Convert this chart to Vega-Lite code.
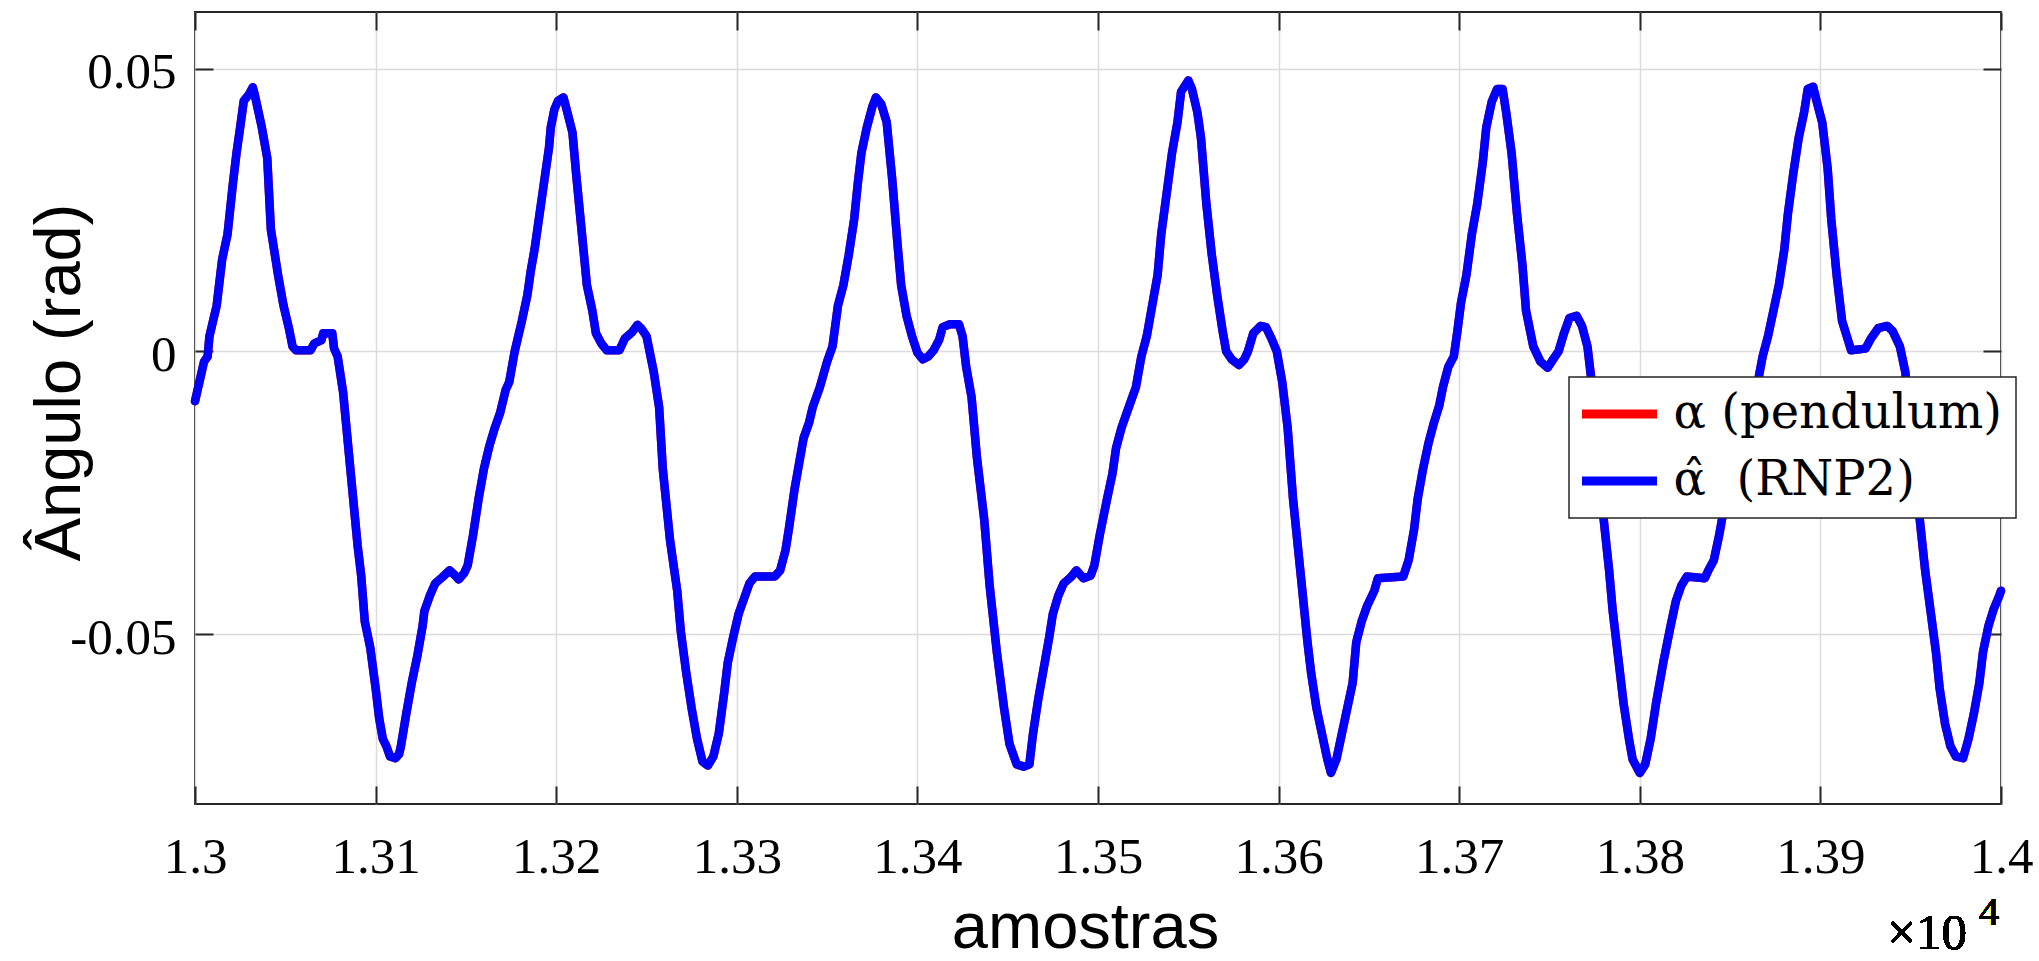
{
"$schema": "https://vega.github.io/schema/vega-lite/v6.json",
"width": 1806, "height": 792,
"autosize": {"type": "none"},
"padding": {"left": 195, "top": 12, "right": 38, "bottom": 157},
"background": "white",
"config": {
  "view": {"stroke": "#262626", "strokeWidth": 2},
  "axis": {"domain": false, "tickColor": "#262626", "tickWidth": 2, "tickSize": -18, "gridColor": "#dcdcdc", "gridWidth": 1.5, "labelFont": "Liberation Serif", "labelFontSize": 51, "labelColor": "#000000", "titleFont": "Liberation Sans", "titleFontSize": 65, "titleFontWeight": "normal", "titleColor": "#000000"},
  "legend": {"padding": 13, "strokeColor": "#262626", "strokeWidth": 1.5, "fillColor": "#ffffff", "cornerRadius": 0, "labelFont": "DejaVu Serif", "labelFontSize": 48, "labelColor": "#000000", "labelLimit": 600, "symbolType": "M-2.5,0H2.5", "symbolSize": 900, "symbolStrokeWidth": 9, "symbolOffset": 13.5, "labelOffset": 30, "rowPadding": 19}
},
"data": {"values": [
{"amostra":13000,"alpha":-0.0088,"alpha_hat":-0.0088},
{"amostra":13005,"alpha":-0.0018,"alpha_hat":-0.0018},
{"amostra":13007,"alpha":-0.0009,"alpha_hat":-0.0009},
{"amostra":13008,"alpha":0.0027,"alpha_hat":0.0027},
{"amostra":13012,"alpha":0.0081,"alpha_hat":0.0081},
{"amostra":13015,"alpha":0.0162,"alpha_hat":0.0162},
{"amostra":13018,"alpha":0.0207,"alpha_hat":0.0207},
{"amostra":13021,"alpha":0.0297,"alpha_hat":0.0297},
{"amostra":13023,"alpha":0.0351,"alpha_hat":0.0351},
{"amostra":13025,"alpha":0.0396,"alpha_hat":0.0396},
{"amostra":13027,"alpha":0.0443,"alpha_hat":0.0443},
{"amostra":13030,"alpha":0.0455,"alpha_hat":0.0455},
{"amostra":13032,"alpha":0.0467,"alpha_hat":0.0467},
{"amostra":13033,"alpha":0.0455,"alpha_hat":0.0455},
{"amostra":13037,"alpha":0.0396,"alpha_hat":0.0396},
{"amostra":13040,"alpha":0.0342,"alpha_hat":0.0342},
{"amostra":13042,"alpha":0.0216,"alpha_hat":0.0216},
{"amostra":13046,"alpha":0.0135,"alpha_hat":0.0135},
{"amostra":13049,"alpha":0.0081,"alpha_hat":0.0081},
{"amostra":13052,"alpha":0.0041,"alpha_hat":0.0041},
{"amostra":13054,"alpha":0.0009,"alpha_hat":0.0009},
{"amostra":13056,"alpha":0.0002,"alpha_hat":0.0002},
{"amostra":13064,"alpha":0.0002,"alpha_hat":0.0002},
{"amostra":13066,"alpha":0.0014,"alpha_hat":0.0014},
{"amostra":13070,"alpha":0.0020,"alpha_hat":0.0020},
{"amostra":13071,"alpha":0.0032,"alpha_hat":0.0032},
{"amostra":13076,"alpha":0.0032,"alpha_hat":0.0032},
{"amostra":13077,"alpha":0.0005,"alpha_hat":0.0005},
{"amostra":13079,"alpha":-0.0009,"alpha_hat":-0.0009},
{"amostra":13082,"alpha":-0.0072,"alpha_hat":-0.0072},
{"amostra":13086,"alpha":-0.0207,"alpha_hat":-0.0207},
{"amostra":13090,"alpha":-0.0342,"alpha_hat":-0.0342},
{"amostra":13092,"alpha":-0.0396,"alpha_hat":-0.0396},
{"amostra":13094,"alpha":-0.0477,"alpha_hat":-0.0477},
{"amostra":13097,"alpha":-0.0523,"alpha_hat":-0.0523},
{"amostra":13100,"alpha":-0.0595,"alpha_hat":-0.0595},
{"amostra":13102,"alpha":-0.0649,"alpha_hat":-0.0649},
{"amostra":13104,"alpha":-0.0685,"alpha_hat":-0.0685},
{"amostra":13106,"alpha":-0.0698,"alpha_hat":-0.0698},
{"amostra":13108,"alpha":-0.0716,"alpha_hat":-0.0716},
{"amostra":13111,"alpha":-0.0719,"alpha_hat":-0.0719},
{"amostra":13113,"alpha":-0.0712,"alpha_hat":-0.0712},
{"amostra":13114,"alpha":-0.0698,"alpha_hat":-0.0698},
{"amostra":13117,"alpha":-0.0640,"alpha_hat":-0.0640},
{"amostra":13120,"alpha":-0.0586,"alpha_hat":-0.0586},
{"amostra":13123,"alpha":-0.0540,"alpha_hat":-0.0540},
{"amostra":13126,"alpha":-0.0486,"alpha_hat":-0.0486},
{"amostra":13127,"alpha":-0.0459,"alpha_hat":-0.0459},
{"amostra":13130,"alpha":-0.0432,"alpha_hat":-0.0432},
{"amostra":13133,"alpha":-0.0410,"alpha_hat":-0.0410},
{"amostra":13137,"alpha":-0.0399,"alpha_hat":-0.0399},
{"amostra":13141,"alpha":-0.0387,"alpha_hat":-0.0387},
{"amostra":13144,"alpha":-0.0396,"alpha_hat":-0.0396},
{"amostra":13146,"alpha":-0.0403,"alpha_hat":-0.0403},
{"amostra":13149,"alpha":-0.0392,"alpha_hat":-0.0392},
{"amostra":13151,"alpha":-0.0378,"alpha_hat":-0.0378},
{"amostra":13154,"alpha":-0.0324,"alpha_hat":-0.0324},
{"amostra":13157,"alpha":-0.0261,"alpha_hat":-0.0261},
{"amostra":13160,"alpha":-0.0207,"alpha_hat":-0.0207},
{"amostra":13163,"alpha":-0.0167,"alpha_hat":-0.0167},
{"amostra":13166,"alpha":-0.0135,"alpha_hat":-0.0135},
{"amostra":13169,"alpha":-0.0108,"alpha_hat":-0.0108},
{"amostra":13172,"alpha":-0.0068,"alpha_hat":-0.0068},
{"amostra":13174,"alpha":-0.0054,"alpha_hat":-0.0054},
{"amostra":13177,"alpha":0.0000,"alpha_hat":0.0000},
{"amostra":13181,"alpha":0.0054,"alpha_hat":0.0054},
{"amostra":13184,"alpha":0.0099,"alpha_hat":0.0099},
{"amostra":13186,"alpha":0.0144,"alpha_hat":0.0144},
{"amostra":13188,"alpha":0.0180,"alpha_hat":0.0180},
{"amostra":13190,"alpha":0.0225,"alpha_hat":0.0225},
{"amostra":13192,"alpha":0.0270,"alpha_hat":0.0270},
{"amostra":13194,"alpha":0.0315,"alpha_hat":0.0315},
{"amostra":13196,"alpha":0.0360,"alpha_hat":0.0360},
{"amostra":13197,"alpha":0.0396,"alpha_hat":0.0396},
{"amostra":13199,"alpha":0.0428,"alpha_hat":0.0428},
{"amostra":13201,"alpha":0.0443,"alpha_hat":0.0443},
{"amostra":13204,"alpha":0.0449,"alpha_hat":0.0449},
{"amostra":13205,"alpha":0.0437,"alpha_hat":0.0437},
{"amostra":13209,"alpha":0.0387,"alpha_hat":0.0387},
{"amostra":13211,"alpha":0.0315,"alpha_hat":0.0315},
{"amostra":13214,"alpha":0.0216,"alpha_hat":0.0216},
{"amostra":13217,"alpha":0.0117,"alpha_hat":0.0117},
{"amostra":13220,"alpha":0.0072,"alpha_hat":0.0072},
{"amostra":13222,"alpha":0.0032,"alpha_hat":0.0032},
{"amostra":13225,"alpha":0.0014,"alpha_hat":0.0014},
{"amostra":13228,"alpha":0.0002,"alpha_hat":0.0002},
{"amostra":13235,"alpha":0.0002,"alpha_hat":0.0002},
{"amostra":13238,"alpha":0.0023,"alpha_hat":0.0023},
{"amostra":13242,"alpha":0.0034,"alpha_hat":0.0034},
{"amostra":13245,"alpha":0.0047,"alpha_hat":0.0047},
{"amostra":13247,"alpha":0.0041,"alpha_hat":0.0041},
{"amostra":13250,"alpha":0.0027,"alpha_hat":0.0027},
{"amostra":13254,"alpha":-0.0036,"alpha_hat":-0.0036},
{"amostra":13257,"alpha":-0.0099,"alpha_hat":-0.0099},
{"amostra":13259,"alpha":-0.0207,"alpha_hat":-0.0207},
{"amostra":13263,"alpha":-0.0333,"alpha_hat":-0.0333},
{"amostra":13267,"alpha":-0.0423,"alpha_hat":-0.0423},
{"amostra":13269,"alpha":-0.0495,"alpha_hat":-0.0495},
{"amostra":13272,"alpha":-0.0568,"alpha_hat":-0.0568},
{"amostra":13275,"alpha":-0.0631,"alpha_hat":-0.0631},
{"amostra":13278,"alpha":-0.0685,"alpha_hat":-0.0685},
{"amostra":13281,"alpha":-0.0725,"alpha_hat":-0.0725},
{"amostra":13284,"alpha":-0.0732,"alpha_hat":-0.0732},
{"amostra":13287,"alpha":-0.0716,"alpha_hat":-0.0716},
{"amostra":13290,"alpha":-0.0676,"alpha_hat":-0.0676},
{"amostra":13293,"alpha":-0.0604,"alpha_hat":-0.0604},
{"amostra":13295,"alpha":-0.0550,"alpha_hat":-0.0550},
{"amostra":13298,"alpha":-0.0505,"alpha_hat":-0.0505},
{"amostra":13301,"alpha":-0.0464,"alpha_hat":-0.0464},
{"amostra":13304,"alpha":-0.0437,"alpha_hat":-0.0437},
{"amostra":13307,"alpha":-0.0410,"alpha_hat":-0.0410},
{"amostra":13310,"alpha":-0.0398,"alpha_hat":-0.0398},
{"amostra":13321,"alpha":-0.0398,"alpha_hat":-0.0398},
{"amostra":13324,"alpha":-0.0387,"alpha_hat":-0.0387},
{"amostra":13327,"alpha":-0.0351,"alpha_hat":-0.0351},
{"amostra":13329,"alpha":-0.0310,"alpha_hat":-0.0310},
{"amostra":13332,"alpha":-0.0243,"alpha_hat":-0.0243},
{"amostra":13335,"alpha":-0.0189,"alpha_hat":-0.0189},
{"amostra":13337,"alpha":-0.0153,"alpha_hat":-0.0153},
{"amostra":13340,"alpha":-0.0126,"alpha_hat":-0.0126},
{"amostra":13342,"alpha":-0.0099,"alpha_hat":-0.0099},
{"amostra":13346,"alpha":-0.0063,"alpha_hat":-0.0063},
{"amostra":13350,"alpha":-0.0018,"alpha_hat":-0.0018},
{"amostra":13353,"alpha":0.0009,"alpha_hat":0.0009},
{"amostra":13356,"alpha":0.0081,"alpha_hat":0.0081},
{"amostra":13359,"alpha":0.0117,"alpha_hat":0.0117},
{"amostra":13362,"alpha":0.0171,"alpha_hat":0.0171},
{"amostra":13365,"alpha":0.0234,"alpha_hat":0.0234},
{"amostra":13367,"alpha":0.0297,"alpha_hat":0.0297},
{"amostra":13369,"alpha":0.0351,"alpha_hat":0.0351},
{"amostra":13372,"alpha":0.0396,"alpha_hat":0.0396},
{"amostra":13375,"alpha":0.0432,"alpha_hat":0.0432},
{"amostra":13377,"alpha":0.0449,"alpha_hat":0.0449},
{"amostra":13380,"alpha":0.0437,"alpha_hat":0.0437},
{"amostra":13383,"alpha":0.0405,"alpha_hat":0.0405},
{"amostra":13386,"alpha":0.0306,"alpha_hat":0.0306},
{"amostra":13389,"alpha":0.0189,"alpha_hat":0.0189},
{"amostra":13391,"alpha":0.0117,"alpha_hat":0.0117},
{"amostra":13394,"alpha":0.0063,"alpha_hat":0.0063},
{"amostra":13397,"alpha":0.0027,"alpha_hat":0.0027},
{"amostra":13400,"alpha":-0.0002,"alpha_hat":-0.0002},
{"amostra":13403,"alpha":-0.0014,"alpha_hat":-0.0014},
{"amostra":13406,"alpha":-0.0009,"alpha_hat":-0.0009},
{"amostra":13409,"alpha":0.0002,"alpha_hat":0.0002},
{"amostra":13412,"alpha":0.0020,"alpha_hat":0.0020},
{"amostra":13414,"alpha":0.0043,"alpha_hat":0.0043},
{"amostra":13418,"alpha":0.0048,"alpha_hat":0.0048},
{"amostra":13423,"alpha":0.0048,"alpha_hat":0.0048},
{"amostra":13425,"alpha":0.0027,"alpha_hat":0.0027},
{"amostra":13427,"alpha":-0.0027,"alpha_hat":-0.0027},
{"amostra":13430,"alpha":-0.0081,"alpha_hat":-0.0081},
{"amostra":13433,"alpha":-0.0189,"alpha_hat":-0.0189},
{"amostra":13437,"alpha":-0.0297,"alpha_hat":-0.0297},
{"amostra":13440,"alpha":-0.0414,"alpha_hat":-0.0414},
{"amostra":13444,"alpha":-0.0532,"alpha_hat":-0.0532},
{"amostra":13448,"alpha":-0.0631,"alpha_hat":-0.0631},
{"amostra":13451,"alpha":-0.0694,"alpha_hat":-0.0694},
{"amostra":13455,"alpha":-0.0730,"alpha_hat":-0.0730},
{"amostra":13459,"alpha":-0.0734,"alpha_hat":-0.0734},
{"amostra":13462,"alpha":-0.0730,"alpha_hat":-0.0730},
{"amostra":13464,"alpha":-0.0676,"alpha_hat":-0.0676},
{"amostra":13467,"alpha":-0.0613,"alpha_hat":-0.0613},
{"amostra":13470,"alpha":-0.0559,"alpha_hat":-0.0559},
{"amostra":13473,"alpha":-0.0505,"alpha_hat":-0.0505},
{"amostra":13475,"alpha":-0.0464,"alpha_hat":-0.0464},
{"amostra":13478,"alpha":-0.0432,"alpha_hat":-0.0432},
{"amostra":13481,"alpha":-0.0410,"alpha_hat":-0.0410},
{"amostra":13485,"alpha":-0.0399,"alpha_hat":-0.0399},
{"amostra":13488,"alpha":-0.0387,"alpha_hat":-0.0387},
{"amostra":13492,"alpha":-0.0401,"alpha_hat":-0.0401},
{"amostra":13496,"alpha":-0.0396,"alpha_hat":-0.0396},
{"amostra":13498,"alpha":-0.0378,"alpha_hat":-0.0378},
{"amostra":13501,"alpha":-0.0324,"alpha_hat":-0.0324},
{"amostra":13505,"alpha":-0.0261,"alpha_hat":-0.0261},
{"amostra":13508,"alpha":-0.0216,"alpha_hat":-0.0216},
{"amostra":13510,"alpha":-0.0171,"alpha_hat":-0.0171},
{"amostra":13513,"alpha":-0.0135,"alpha_hat":-0.0135},
{"amostra":13516,"alpha":-0.0108,"alpha_hat":-0.0108},
{"amostra":13519,"alpha":-0.0081,"alpha_hat":-0.0081},
{"amostra":13521,"alpha":-0.0063,"alpha_hat":-0.0063},
{"amostra":13524,"alpha":-0.0009,"alpha_hat":-0.0009},
{"amostra":13527,"alpha":0.0027,"alpha_hat":0.0027},
{"amostra":13530,"alpha":0.0081,"alpha_hat":0.0081},
{"amostra":13533,"alpha":0.0135,"alpha_hat":0.0135},
{"amostra":13535,"alpha":0.0207,"alpha_hat":0.0207},
{"amostra":13538,"alpha":0.0279,"alpha_hat":0.0279},
{"amostra":13541,"alpha":0.0351,"alpha_hat":0.0351},
{"amostra":13544,"alpha":0.0405,"alpha_hat":0.0405},
{"amostra":13546,"alpha":0.0459,"alpha_hat":0.0459},
{"amostra":13550,"alpha":0.0479,"alpha_hat":0.0479},
{"amostra":13552,"alpha":0.0464,"alpha_hat":0.0464},
{"amostra":13555,"alpha":0.0423,"alpha_hat":0.0423},
{"amostra":13557,"alpha":0.0378,"alpha_hat":0.0378},
{"amostra":13560,"alpha":0.0261,"alpha_hat":0.0261},
{"amostra":13563,"alpha":0.0171,"alpha_hat":0.0171},
{"amostra":13566,"alpha":0.0099,"alpha_hat":0.0099},
{"amostra":13569,"alpha":0.0036,"alpha_hat":0.0036},
{"amostra":13571,"alpha":0.0000,"alpha_hat":0.0000},
{"amostra":13574,"alpha":-0.0014,"alpha_hat":-0.0014},
{"amostra":13578,"alpha":-0.0024,"alpha_hat":-0.0024},
{"amostra":13581,"alpha":-0.0014,"alpha_hat":-0.0014},
{"amostra":13583,"alpha":0.0000,"alpha_hat":0.0000},
{"amostra":13586,"alpha":0.0032,"alpha_hat":0.0032},
{"amostra":13590,"alpha":0.0045,"alpha_hat":0.0045},
{"amostra":13593,"alpha":0.0043,"alpha_hat":0.0043},
{"amostra":13596,"alpha":0.0023,"alpha_hat":0.0023},
{"amostra":13599,"alpha":0.0000,"alpha_hat":0.0000},
{"amostra":13602,"alpha":-0.0054,"alpha_hat":-0.0054},
{"amostra":13605,"alpha":-0.0135,"alpha_hat":-0.0135},
{"amostra":13608,"alpha":-0.0261,"alpha_hat":-0.0261},
{"amostra":13612,"alpha":-0.0387,"alpha_hat":-0.0387},
{"amostra":13616,"alpha":-0.0514,"alpha_hat":-0.0514},
{"amostra":13618,"alpha":-0.0568,"alpha_hat":-0.0568},
{"amostra":13621,"alpha":-0.0631,"alpha_hat":-0.0631},
{"amostra":13624,"alpha":-0.0676,"alpha_hat":-0.0676},
{"amostra":13627,"alpha":-0.0721,"alpha_hat":-0.0721},
{"amostra":13629,"alpha":-0.0745,"alpha_hat":-0.0745},
{"amostra":13632,"alpha":-0.0721,"alpha_hat":-0.0721},
{"amostra":13635,"alpha":-0.0676,"alpha_hat":-0.0676},
{"amostra":13638,"alpha":-0.0631,"alpha_hat":-0.0631},
{"amostra":13641,"alpha":-0.0586,"alpha_hat":-0.0586},
{"amostra":13643,"alpha":-0.0514,"alpha_hat":-0.0514},
{"amostra":13646,"alpha":-0.0477,"alpha_hat":-0.0477},
{"amostra":13649,"alpha":-0.0450,"alpha_hat":-0.0450},
{"amostra":13653,"alpha":-0.0423,"alpha_hat":-0.0423},
{"amostra":13655,"alpha":-0.0401,"alpha_hat":-0.0401},
{"amostra":13669,"alpha":-0.0398,"alpha_hat":-0.0398},
{"amostra":13672,"alpha":-0.0369,"alpha_hat":-0.0369},
{"amostra":13675,"alpha":-0.0315,"alpha_hat":-0.0315},
{"amostra":13677,"alpha":-0.0261,"alpha_hat":-0.0261},
{"amostra":13680,"alpha":-0.0207,"alpha_hat":-0.0207},
{"amostra":13683,"alpha":-0.0162,"alpha_hat":-0.0162},
{"amostra":13686,"alpha":-0.0126,"alpha_hat":-0.0126},
{"amostra":13689,"alpha":-0.0095,"alpha_hat":-0.0095},
{"amostra":13691,"alpha":-0.0063,"alpha_hat":-0.0063},
{"amostra":13694,"alpha":-0.0027,"alpha_hat":-0.0027},
{"amostra":13697,"alpha":-0.0009,"alpha_hat":-0.0009},
{"amostra":13699,"alpha":0.0036,"alpha_hat":0.0036},
{"amostra":13701,"alpha":0.0086,"alpha_hat":0.0086},
{"amostra":13704,"alpha":0.0135,"alpha_hat":0.0135},
{"amostra":13707,"alpha":0.0207,"alpha_hat":0.0207},
{"amostra":13710,"alpha":0.0261,"alpha_hat":0.0261},
{"amostra":13713,"alpha":0.0333,"alpha_hat":0.0333},
{"amostra":13715,"alpha":0.0396,"alpha_hat":0.0396},
{"amostra":13718,"alpha":0.0441,"alpha_hat":0.0441},
{"amostra":13721,"alpha":0.0464,"alpha_hat":0.0464},
{"amostra":13724,"alpha":0.0464,"alpha_hat":0.0464},
{"amostra":13726,"alpha":0.0423,"alpha_hat":0.0423},
{"amostra":13729,"alpha":0.0351,"alpha_hat":0.0351},
{"amostra":13732,"alpha":0.0243,"alpha_hat":0.0243},
{"amostra":13735,"alpha":0.0153,"alpha_hat":0.0153},
{"amostra":13737,"alpha":0.0072,"alpha_hat":0.0072},
{"amostra":13741,"alpha":0.0009,"alpha_hat":0.0009},
{"amostra":13745,"alpha":-0.0018,"alpha_hat":-0.0018},
{"amostra":13749,"alpha":-0.0029,"alpha_hat":-0.0029},
{"amostra":13752,"alpha":-0.0014,"alpha_hat":-0.0014},
{"amostra":13755,"alpha":0.0000,"alpha_hat":0.0000},
{"amostra":13758,"alpha":0.0032,"alpha_hat":0.0032},
{"amostra":13761,"alpha":0.0059,"alpha_hat":0.0059},
{"amostra":13765,"alpha":0.0063,"alpha_hat":0.0063},
{"amostra":13768,"alpha":0.0045,"alpha_hat":0.0045},
{"amostra":13771,"alpha":0.0009,"alpha_hat":0.0009},
{"amostra":13773,"alpha":-0.0045,"alpha_hat":-0.0045},
{"amostra":13780,"alpha":-0.0297,"alpha_hat":-0.0297},
{"amostra":13783,"alpha":-0.0387,"alpha_hat":-0.0387},
{"amostra":13785,"alpha":-0.0459,"alpha_hat":-0.0459},
{"amostra":13788,"alpha":-0.0540,"alpha_hat":-0.0540},
{"amostra":13791,"alpha":-0.0622,"alpha_hat":-0.0622},
{"amostra":13794,"alpha":-0.0685,"alpha_hat":-0.0685},
{"amostra":13796,"alpha":-0.0721,"alpha_hat":-0.0721},
{"amostra":13800,"alpha":-0.0745,"alpha_hat":-0.0745},
{"amostra":13803,"alpha":-0.0730,"alpha_hat":-0.0730},
{"amostra":13806,"alpha":-0.0685,"alpha_hat":-0.0685},
{"amostra":13809,"alpha":-0.0622,"alpha_hat":-0.0622},
{"amostra":13813,"alpha":-0.0550,"alpha_hat":-0.0550},
{"amostra":13817,"alpha":-0.0486,"alpha_hat":-0.0486},
{"amostra":13820,"alpha":-0.0441,"alpha_hat":-0.0441},
{"amostra":13823,"alpha":-0.0414,"alpha_hat":-0.0414},
{"amostra":13826,"alpha":-0.0398,"alpha_hat":-0.0398},
{"amostra":13836,"alpha":-0.0401,"alpha_hat":-0.0401},
{"amostra":13838,"alpha":-0.0387,"alpha_hat":-0.0387},
{"amostra":13841,"alpha":-0.0369,"alpha_hat":-0.0369},
{"amostra":13844,"alpha":-0.0324,"alpha_hat":-0.0324},
{"amostra":13846,"alpha":-0.0288,"alpha_hat":-0.0288},
{"amostra":13866,"alpha":-0.0043,"alpha_hat":-0.0043},
{"amostra":13868,"alpha":-0.0009,"alpha_hat":-0.0009},
{"amostra":13871,"alpha":0.0027,"alpha_hat":0.0027},
{"amostra":13874,"alpha":0.0072,"alpha_hat":0.0072},
{"amostra":13877,"alpha":0.0117,"alpha_hat":0.0117},
{"amostra":13880,"alpha":0.0180,"alpha_hat":0.0180},
{"amostra":13882,"alpha":0.0243,"alpha_hat":0.0243},
{"amostra":13885,"alpha":0.0315,"alpha_hat":0.0315},
{"amostra":13888,"alpha":0.0378,"alpha_hat":0.0378},
{"amostra":13891,"alpha":0.0423,"alpha_hat":0.0423},
{"amostra":13893,"alpha":0.0464,"alpha_hat":0.0464},
{"amostra":13896,"alpha":0.0468,"alpha_hat":0.0468},
{"amostra":13898,"alpha":0.0441,"alpha_hat":0.0441},
{"amostra":13901,"alpha":0.0405,"alpha_hat":0.0405},
{"amostra":13904,"alpha":0.0324,"alpha_hat":0.0324},
{"amostra":13906,"alpha":0.0234,"alpha_hat":0.0234},
{"amostra":13909,"alpha":0.0135,"alpha_hat":0.0135},
{"amostra":13912,"alpha":0.0054,"alpha_hat":0.0054},
{"amostra":13915,"alpha":0.0023,"alpha_hat":0.0023},
{"amostra":13917,"alpha":0.0002,"alpha_hat":0.0002},
{"amostra":13925,"alpha":0.0005,"alpha_hat":0.0005},
{"amostra":13928,"alpha":0.0023,"alpha_hat":0.0023},
{"amostra":13932,"alpha":0.0041,"alpha_hat":0.0041},
{"amostra":13937,"alpha":0.0045,"alpha_hat":0.0045},
{"amostra":13940,"alpha":0.0036,"alpha_hat":0.0036},
{"amostra":13944,"alpha":0.0009,"alpha_hat":0.0009},
{"amostra":13947,"alpha":-0.0036,"alpha_hat":-0.0036},
{"amostra":13955,"alpha":-0.0297,"alpha_hat":-0.0297},
{"amostra":13958,"alpha":-0.0387,"alpha_hat":-0.0387},
{"amostra":13961,"alpha":-0.0459,"alpha_hat":-0.0459},
{"amostra":13964,"alpha":-0.0532,"alpha_hat":-0.0532},
{"amostra":13966,"alpha":-0.0595,"alpha_hat":-0.0595},
{"amostra":13969,"alpha":-0.0658,"alpha_hat":-0.0658},
{"amostra":13972,"alpha":-0.0698,"alpha_hat":-0.0698},
{"amostra":13975,"alpha":-0.0716,"alpha_hat":-0.0716},
{"amostra":13979,"alpha":-0.0719,"alpha_hat":-0.0719},
{"amostra":13982,"alpha":-0.0685,"alpha_hat":-0.0685},
{"amostra":13985,"alpha":-0.0640,"alpha_hat":-0.0640},
{"amostra":13988,"alpha":-0.0586,"alpha_hat":-0.0586},
{"amostra":13990,"alpha":-0.0532,"alpha_hat":-0.0532},
{"amostra":13993,"alpha":-0.0486,"alpha_hat":-0.0486},
{"amostra":13996,"alpha":-0.0455,"alpha_hat":-0.0455},
{"amostra":13999,"alpha":-0.0432,"alpha_hat":-0.0432},
{"amostra":14000,"alpha":-0.0423,"alpha_hat":-0.0423}
]},
"layer": [
  {
    "mark": {"type": "line", "strokeWidth": 8.5, "strokeJoin": "round", "strokeCap": "round"},
    "encoding": {
      "x": {"field": "amostra", "type": "quantitative",
            "scale": {"domain": [13000, 14000], "nice": false, "zero": false},
            "axis": {"orient": "bottom", "values": [13000,13100,13200,13300,13400,13500,13600,13700,13800,13900,14000],
                     "labelExpr": "'' + datum.value / 10000", "grid": true, "labelPadding": 46, "labelFlush": false,
                     "title": "amostras", "titleX": 890, "titleY": 143, "titleBaseline": "alphabetic", "titleAlign": "center"}},
      "y": {"field": "alpha", "type": "quantitative",
            "scale": {"domain": [-0.08, 0.06], "nice": false, "zero": false},
            "axis": {"orient": "left", "values": [-0.05, 0, 0.05],
                     "labelExpr": "datum.value == 0 ? '0' : (datum.value < 0 ? '-' : '') + format(abs(datum.value), '.2f')",
                     "grid": true, "labelPadding": 37, "labelOffset": 4, "labelFlush": false,
                     "title": "Ângulo (rad)", "titleX": -116, "titleY": 370, "titleBaseline": "alphabetic", "titleAngle": -90, "titleAlign": "center"}},
      "color": {"datum": "α (pendulum)", "type": "nominal",
                "scale": {"domain": ["α (pendulum)", "α̂\u00a0 (RNP2)"], "range": ["#ff0000", "#0000ff"]},
                "legend": {"orient": "none", "legendX": 1374, "legendY": 365, "title": null}}
    }
  },
  {
    "mark": {"type": "line", "strokeWidth": 8.5, "strokeJoin": "round", "strokeCap": "round"},
    "encoding": {
      "x": {"field": "amostra", "type": "quantitative",
            "axis": {"orient": "top", "values": [13000,13100,13200,13300,13400,13500,13600,13700,13800,13900,14000], "labels": false, "grid": false, "title": null}},
      "y": {"field": "alpha_hat", "type": "quantitative",
            "axis": {"orient": "right", "values": [-0.05, 0, 0.05], "labels": false, "grid": false, "title": null}},
      "color": {"datum": "α̂\u00a0 (RNP2)", "type": "nominal"}
    }
  },
  {
    "mark": {"type": "text", "text": "×10", "align": "right", "baseline": "alphabetic", "font": "Liberation Serif", "fontSize": 51, "color": "#000000", "dx": -34, "dy": 145},
    "encoding": {
      "x": {"datum": 14000, "type": "quantitative", "axis": null},
      "y": {"datum": -0.08, "type": "quantitative", "axis": null}
    }
  },
  {
    "mark": {"type": "text", "text": "4", "align": "right", "baseline": "alphabetic", "font": "Liberation Serif", "fontSize": 40, "color": "#000000", "dx": -2, "dy": 121},
    "encoding": {
      "x": {"datum": 14000, "type": "quantitative", "axis": null},
      "y": {"datum": -0.08, "type": "quantitative", "axis": null}
    }
  }
]
}
